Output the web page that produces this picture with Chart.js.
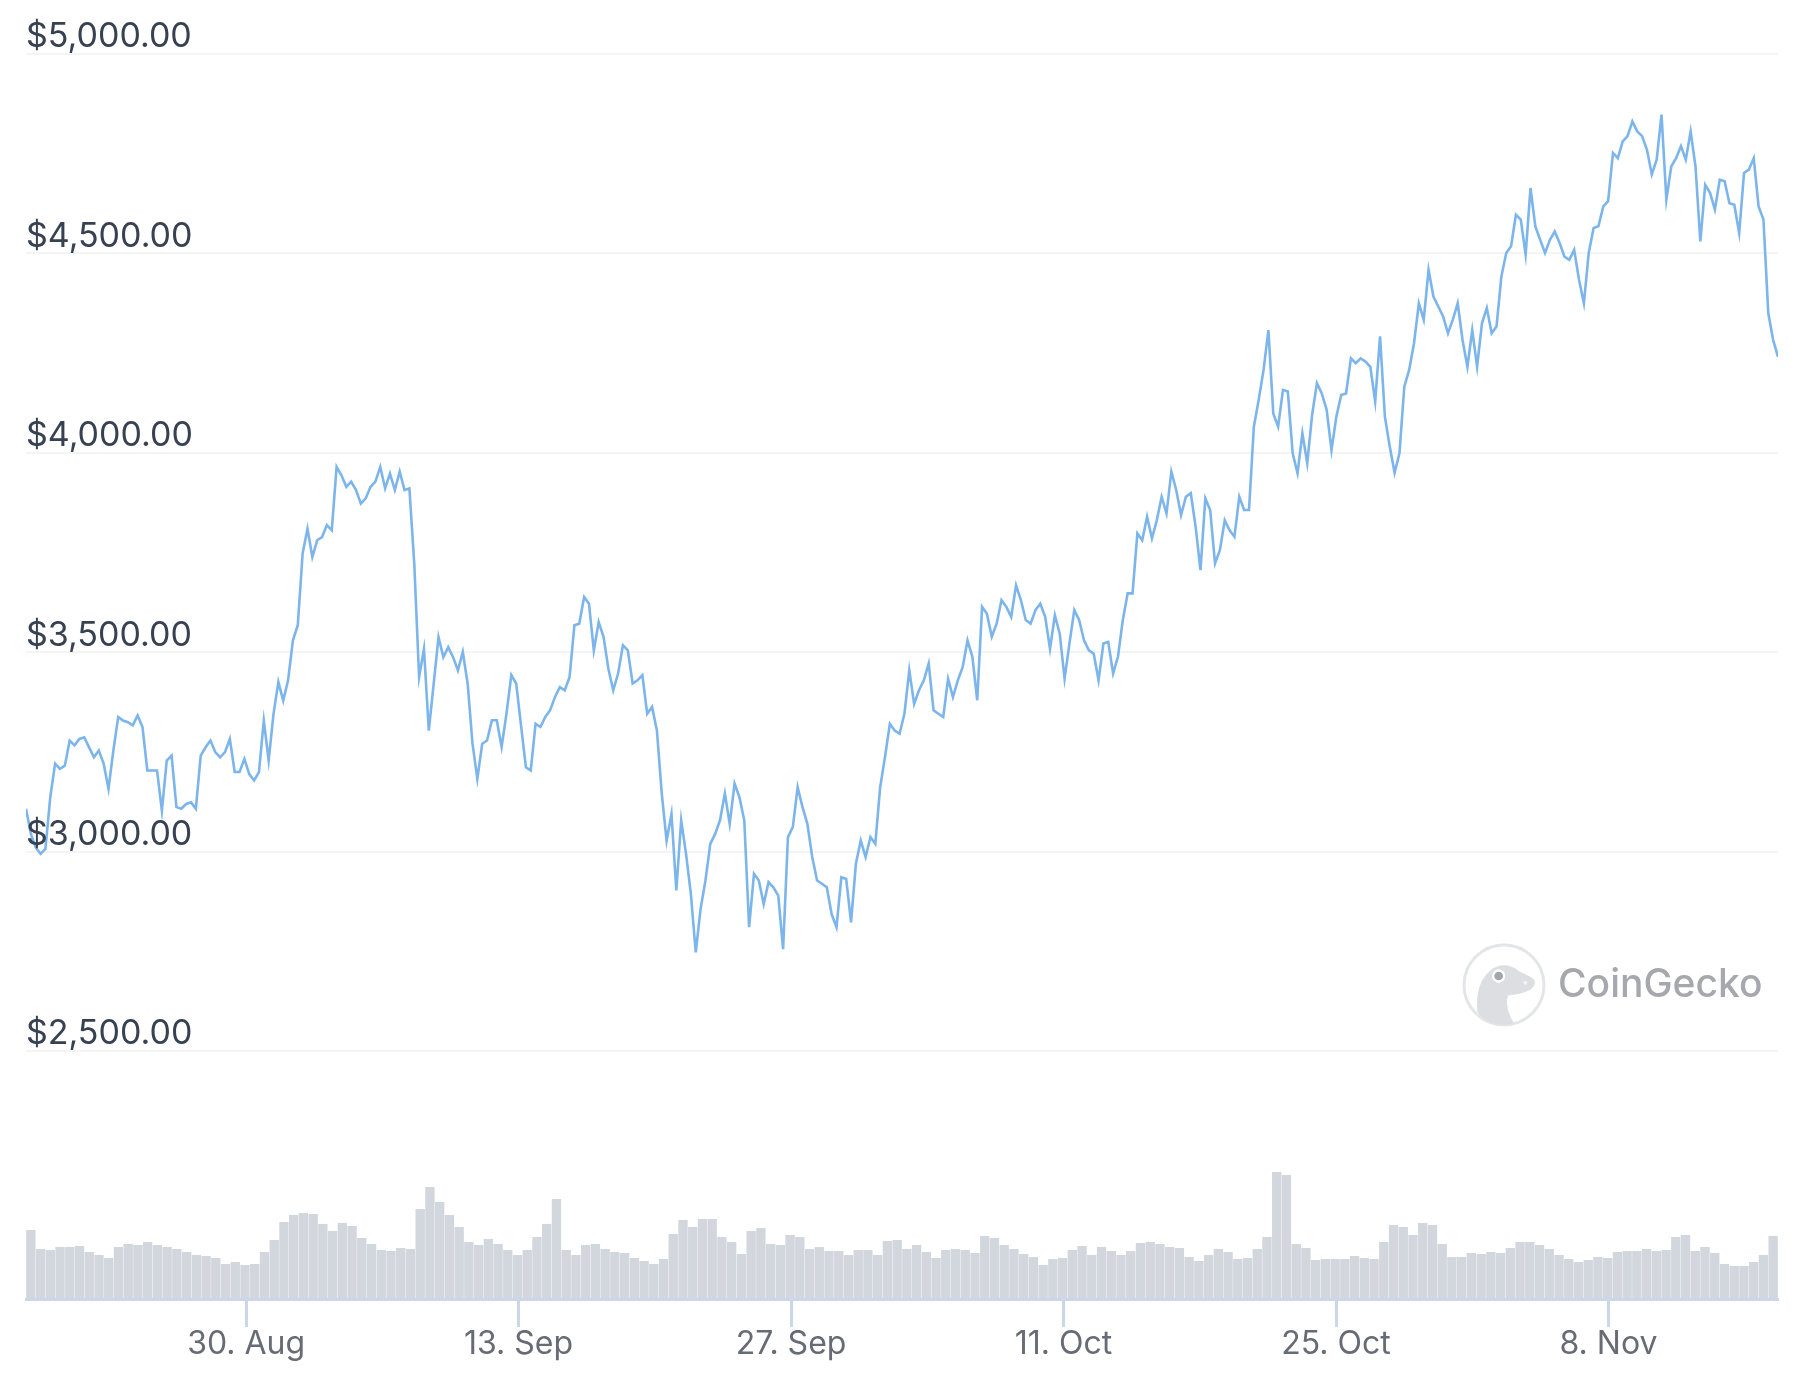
<!DOCTYPE html>
<html>
<head>
<meta charset="utf-8">
<title>ETH price</title>
<script src="https://cdn.jsdelivr.net/npm/chart.js@4/dist/chart.umd.min.js"></script>
<style>
  html, body { margin: 0; padding: 0; background: #fff; }
  #wrap { position: relative; width: 1806px; height: 1378px; overflow: hidden; }
  #chart { position: absolute; left: 0; top: 0; }
  #logo { position: absolute; left: 1440px; top: 930px; width: 366px; height: 130px; }
  #logoText {
    position: absolute; left: 1558px; top: 961px;
    font: 500 39px Inter, sans-serif; color: #a6a8ad; line-height: 44px;
  }
</style>
</head>
<body>
<div id="wrap">
  <canvas id="chart" width="1806" height="1378"></canvas>
  <svg id="logo" viewBox="0 0 1098 390">
    <circle cx="192" cy="165" r="120" fill="#fff" stroke="#e3e5e8" stroke-width="9"/>
    <path d="M112 245 C108 190 118 150 150 122 C175 100 210 100 235 122 C255 135 285 140 285 158 C283 180 250 192 205 196 C195 215 205 255 222 280 C190 290 140 285 112 245 Z" fill="#dcdee2"/>
    <circle cx="176" cy="138" r="20" fill="#fff"/>
    <circle cx="176" cy="138" r="13" fill="#a3a5a9"/>
    <circle cx="256" cy="158" r="6" fill="#f2f3f5"/>
  </svg>
  <div id="logoText">CoinGecko</div>
</div>
<script>
// days are counted from 30. Aug, the first tick
const xTickDays = [0, 14, 28, 42, 56, 70];
const xTickLabels = ['30. Aug', '13. Sep', '27. Sep', '11. Oct', '25. Oct', '8. Nov'];
const priceTicks = [2500, 3000, 3500, 4000, 4500, 5000];
const firstDay = -11.31;
const lastDay = 78.71;

// one value every 6 hours
const priceValues = [
  3108, 3045, 3011, 2995, 3007, 3137, 3221, 3208, 3216, 3279, 3267, 3283, 3287, 3262, 3237, 3254, 3221, 3158, 3254, 3338,
  3329, 3325, 3317, 3342, 3313, 3204, 3204, 3204, 3103, 3229, 3241, 3112, 3108, 3120, 3124, 3108, 3241, 3262, 3279, 3250,
  3237, 3250, 3283, 3200, 3200, 3233, 3195, 3179, 3200, 3329, 3229, 3346, 3426, 3379, 3430, 3530, 3568, 3748, 3810, 3739,
  3781, 3789, 3819, 3806, 3965, 3944, 3915, 3928, 3907, 3873, 3886, 3915, 3928, 3965, 3911, 3948, 3907, 3953, 3907, 3911,
  3723, 3438, 3509, 3304, 3421, 3538, 3488, 3513, 3488, 3455,
  3501, 3422, 3271, 3183, 3271, 3279, 3330, 3330, 3263, 3346, 3443, 3422, 3317, 3212, 3204, 3321, 3313, 3338, 3355, 3388,
  3413, 3405, 3438, 3568, 3572, 3639, 3622, 3505, 3576, 3539, 3459, 3405, 3447, 3518, 3505, 3422, 3430, 3443, 3346, 3363,
  3304, 3146, 3028, 3095, 2903, 3079, 2995, 2894, 2748, 2857, 2928, 3020, 3045, 3079, 3146, 3070, 3171, 3137, 3079, 2811,
  2945, 2928, 2869, 2924, 2911, 2890, 2756, 3037, 3062, 3162, 3112, 3070, 2987, 2928, 2920, 2911, 2844, 2811, 2936, 2932,
  2823, 2970, 3028, 2987, 3037, 3020, 3162, 3238, 3321,
  3304, 3296, 3346, 3455, 3371, 3405, 3430, 3472, 3355, 3346, 3338, 3434, 3388, 3430, 3463, 3530, 3489, 3380, 3614, 3597,
  3539, 3572, 3631, 3614, 3589, 3668, 3631, 3581, 3572, 3606, 3622, 3589, 3509, 3593, 3547, 3434, 3522, 3606, 3581, 3530,
  3505, 3497, 3430, 3522, 3526, 3447, 3489, 3581, 3648, 3648, 3798, 3781, 3840, 3786, 3831, 3890, 3848, 3953, 3907, 3844,
  3890, 3899, 3815, 3706, 3886, 3857, 3723, 3756, 3831, 3806, 3790, 3890, 3857, 3857, 4066, 4133, 4208, 4308, 4099, 4066,
  4158, 4154, 3999, 3949, 4049, 3974, 4095, 4175,
  4149, 4108, 4007, 4091, 4145, 4149, 4237, 4225, 4237, 4229, 4216, 4129, 4292, 4091, 4016, 3950, 3999, 4166, 4208, 4275,
  4375, 4334, 4459, 4392, 4367, 4342, 4300, 4334, 4375, 4283, 4216, 4308, 4216, 4325, 4363, 4300, 4317, 4442, 4501, 4518,
  4597, 4585, 4497, 4664, 4568, 4534, 4501, 4534, 4555, 4526, 4492, 4484, 4509, 4434, 4375, 4501, 4564, 4568, 4618, 4631,
  4752, 4739, 4781, 4794, 4831, 4806, 4794, 4760, 4698, 4735, 4848, 4635, 4718, 4739, 4769, 4735, 4806, 4718, 4530, 4672,
  4652, 4610, 4685, 4681, 4626, 4622, 4551, 4702, 4710, 4739, 4618, 4585, 4350, 4283, 4241
];

// relative volume, one bar every 12 hours
const volumeValues = [
  69, 50, 49, 52, 52, 53, 47, 44, 41, 52, 55, 54, 57, 54, 52, 50, 47, 44, 43, 41,
  35, 37, 34, 35, 47, 59, 77, 84, 86, 85, 75, 68, 76, 73, 61, 55, 49, 48, 51, 50,
  90, 112, 97, 84, 72, 57, 54, 60, 55,
  49, 44, 49, 62, 75, 100, 49, 44, 54, 55, 50, 47, 46, 41, 38, 35, 40, 65, 79, 72,
  80, 80, 62, 57, 45, 68, 71, 55, 54, 64, 62, 50, 52, 48, 48, 44, 49, 49, 44, 58,
  59, 50, 54, 47, 41, 49, 50, 49, 46, 63, 61,
  54, 50, 45, 42, 34, 40, 41, 49, 53, 44, 52, 48, 44, 48, 56, 57, 55, 52, 51, 42,
  38, 44, 50, 47, 40, 41, 50, 62, 127, 124, 55, 51, 39, 40, 40, 40, 43, 41, 40, 57,
  74, 72, 64, 76, 74, 55, 42, 42, 46, 45, 47, 46,
  51, 57, 57, 54, 50, 44, 40, 37, 39, 42, 41, 47, 48, 48, 50, 48, 49, 62, 64, 48,
  52, 46, 35, 33, 33, 37, 44, 63
];

const priceStep = (lastDay - firstDay) / (priceValues.length - 1);
const volumeStep = (lastDay - firstDay) / volumeValues.length;

new Chart(document.getElementById('chart').getContext('2d'), {
  type: 'bar',
  data: {
    datasets: [
      {
        type: 'line',
        data: priceValues.map((v, i) => ({ x: firstDay + i * priceStep, y: v })),
        yAxisID: 'y',
        borderColor: '#7cb5ec',
        borderWidth: 2.6,
        pointRadius: 0,
        tension: 0,
      },
      {
        type: 'bar',
        data: volumeValues.map((v, i) => ({ x: firstDay + (i + 0.5) * volumeStep, y: v })),
        yAxisID: 'volume',
        backgroundColor: '#d2d6dd',
        barPercentage: 0.96,
        categoryPercentage: 1,
      },
    ],
  },
  options: {
    responsive: false,
    animation: false,
    devicePixelRatio: 1,
    layout: { padding: { left: 26, right: 28, top: 54, bottom: 0 } },
    plugins: { legend: { display: false }, tooltip: { enabled: false } },
    scales: {
      x: {
        type: 'linear',
        offset: false,
        min: firstDay,
        max: lastDay,
        afterBuildTicks: axis => { axis.ticks = xTickDays.map(value => ({ value })); },
        afterFit: axis => { axis.height = 79; },
        border: { color: '#ccd6eb', width: 3, z: 1 },
        grid: { offset: false, drawOnChartArea: false, tickLength: 28, tickWidth: 3, tickColor: '#ccd6eb' },
        ticks: {
          autoSkip: false,
          maxRotation: 0,
          padding: -2,
          color: '#666b75',
          font: { family: 'Inter', size: 32 },
          callback: value => xTickLabels[xTickDays.indexOf(value)],
        },
      },
      y: {
        position: 'left',
        min: 1879,
        max: 5000,
        afterBuildTicks: axis => { axis.ticks = priceTicks.map(value => ({ value })); },
        border: { display: false },
        grid: { color: '#f3f4f6', lineWidth: 2, drawTicks: false },
        ticks: {
          mirror: true,
          padding: 0,
          labelOffset: -17,
          z: 1,
          color: '#374151',
          font: { family: 'Inter', size: 34 },
          callback: value => '$' + value.toLocaleString('en-US') + '.00',
        },
      },
      volume: {
        display: false,
        min: 0,
        max: 1244,
      },
    },
  },
});
</script>
</body>
</html>
